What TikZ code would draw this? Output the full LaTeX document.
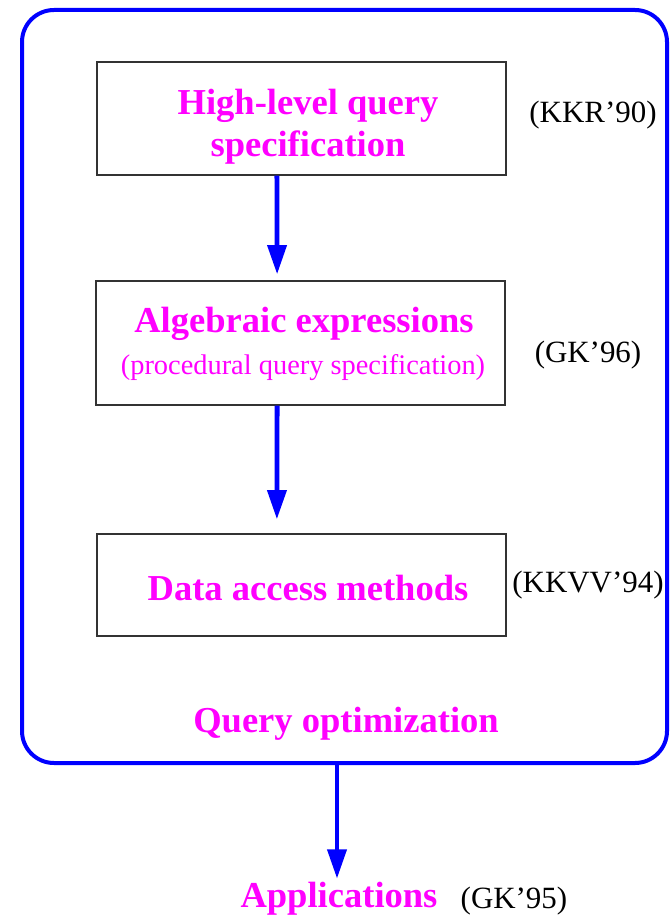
\documentclass[tikz,border=0pt]{standalone}
\usepackage{fontspec}
\setmainfont{Liberation Serif}
\usetikzlibrary{arrows.meta,calc}
\definecolor{mag}{RGB}{255,0,255}
\definecolor{blu}{RGB}{0,0,255}
\tikzset{
  stepbox/.style={draw=black!80, line width=0.9pt, minimum width=409*0.75pt, inner sep=0pt},
  title/.style={text=mag, font=\fontsize{27.4}{31.5}\selectfont\bfseries, align=center},
  sub/.style={text=mag, font=\fontsize{21.3}{24}\selectfont},
  ref/.style={text=black, font=\fontsize{23.2}{26}\selectfont},
  arr/.style={draw=blu, line width=3.6pt, -{Triangle[width=14pt,length=22pt]}},
}
\begin{document}
\begin{tikzpicture}[x=0.75pt,y=-0.75pt]
\useasboundingbox (0,0) rectangle (671,916);
\node[draw=blu, line width=3pt, rounded corners=24pt, minimum width=645*0.75pt, minimum height=753*0.75pt, inner sep=0pt] (outer) at (344.5,386.5) {};
\node[stepbox, minimum height=113*0.75pt] (b1) at (301.5,118.5) {};
\node[title] (t1) at (308,127) {High-level query\\specification};
\node[stepbox, minimum height=124*0.75pt] (b2) at (300.5,343) {};
\node[title] (t2) at (304,324) {Algebraic expressions};
\node[sub] (t2b) at (303,368) {(procedural query specification)};
\node[stepbox, minimum height=102*0.75pt] (b3) at (301.5,585) {};
\node[title] (t3) at (308,588) {Data access methods};
\node[ref] (r1) at (593,115) {(KKR'90)};
\node[ref] (r2) at (588,355) {(GK'96)};
\node[ref] (r3) at (588,585) {(KKVV'94)};
\node[title] (qo) at (346,724) {Query optimization};
\node[title] (app) at (339,899) {Applications};
\node[ref, anchor=west] (r4) at (456,901) {(GK'95)};
\draw[arr] ($(b1.south west)!0.44!(b1.south east)$) -- ($(b2.north west)!0.443!(b2.north east)+(0,-6)$);
\draw[arr] ($(b2.south west)!0.443!(b2.south east)$) -- ($(b3.north west)!0.44!(b3.north east)+(0,-14)$);
\draw[arr] ($(outer.south)+(-7.5,0)$) -- ($(app.north)+(-2,1)$);
\end{tikzpicture}
\end{document}
